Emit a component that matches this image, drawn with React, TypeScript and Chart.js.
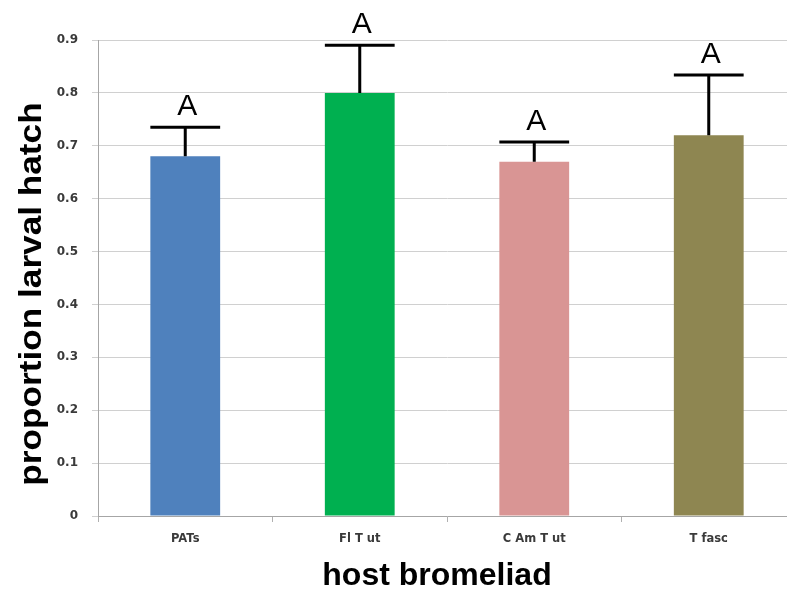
import React, { useEffect, useRef } from "react";
import { Chart, registerables } from "chart.js";

Chart.register(...registerables);

const categories = ["PATs", "Fl T ut", "C Am T ut", "T fasc"];
const means = [0.68, 0.8, 0.67, 0.72];
const errorTops = [0.735, 0.89, 0.707, 0.834];
const groupLetters = ["A", "A", "A", "A"];
const barColors = ["#4F81BD", "#00B050", "#D99594", "#8E8651"];
const yTicks = [0, 0.1, 0.2, 0.3, 0.4, 0.5, 0.6, 0.7, 0.8, 0.9];
const yTitle = "proportion larval hatch";
const xTitle = "host bromeliad";

const FONT = "'Liberation Sans', Arial, sans-serif";
const TICKFONT = "'DejaVu Sans', sans-serif";

const overlayPlugin = {
  id: "overlay",
  afterDatasetsDraw(chart: any) {
    const ctx = chart.ctx;
    const meta = chart.getDatasetMeta(0);
    const y = chart.scales.y;
    ctx.save();
    meta.data.forEach((bar: any, i: number) => {
      const cx = bar.x;
      const half = bar.width / 2;
      const top = y.getPixelForValue(errorTops[i]);
      const base = y.getPixelForValue(means[i]);
      ctx.strokeStyle = "#000";
      ctx.lineWidth = 3;
      ctx.beginPath();
      ctx.moveTo(cx, base);
      ctx.lineTo(cx, top);
      ctx.moveTo(cx - half, top);
      ctx.lineTo(cx + half, top);
      ctx.stroke();
      ctx.fillStyle = "#000";
      ctx.font = `30px ${FONT}`;
      ctx.textAlign = "center";
      ctx.textBaseline = "alphabetic";
      ctx.fillText(groupLetters[i], cx + 2, top - 12);
    });
    // axis titles
    ctx.fillStyle = "#000";
    ctx.font = `bold 32px ${FONT}`;
    ctx.textAlign = "center";
    ctx.textBaseline = "alphabetic";
    ctx.fillText(xTitle, 437, 585);
    ctx.save();
    ctx.translate(41, 294);
    ctx.rotate(-Math.PI / 2);
    ctx.scale(1.1, 1);
    ctx.fillText(yTitle, 0, 0);
    ctx.restore();
    ctx.restore();
  },
};

export default function App() {
  const ref = useRef<HTMLCanvasElement>(null);
  useEffect(() => {
    if (!ref.current) return;
    const chart = new Chart(ref.current, {
      type: "bar",
      data: {
        labels: categories,
        datasets: [
          {
            data: means,
            backgroundColor: barColors,
            borderWidth: 0,
            barPercentage: 0.4,
            categoryPercentage: 1,
          },
        ],
      },
      options: {
        animation: false,
        responsive: false,
        devicePixelRatio: 1,
        layout: { padding: { top: 40, right: 14, left: 0, bottom: 0 } },
        plugins: { legend: { display: false }, tooltip: { enabled: false } },
        scales: {
          x: {
            offset: true,
            grid: {
              display: true,
              drawOnChartArea: false,
              tickLength: 6,
              color: "#b0b0b0",
            },
            border: { display: true, color: "#a6a6a6", width: 1 },
            ticks: {
              padding: 10,
              color: "#3a3a3a",
              font: { family: TICKFONT, size: 11.5, weight: "bold" },
            },
            afterFit(scale: any) {
              scale.height = 74;
            },
          },
          y: {
            min: 0,
            max: 0.9,
            afterBuildTicks(scale: any) {
              scale.ticks = yTicks.map((v) => ({ value: v }));
            },
            grid: { color: "#d0d0d0", tickLength: 6, drawTicks: true },
            border: { display: true, color: "#a6a6a6", width: 1 },
            ticks: {
              padding: 14,
              color: "#3a3a3a",
              font: { family: TICKFONT, size: 12, weight: "bold" },
              callback: (v: any) => (Number(v) === 0 ? "0" : Number(v).toFixed(1)),
            },
            afterFit(scale: any) {
              scale.width = 98;
            },
          },
        },
      },
      plugins: [overlayPlugin],
    });
    return () => chart.destroy();
  }, []);
  return (
    <div
      style={{
        position: "fixed",
        left: 0,
        top: 0,
        width: 787,
        height: 590,
        overflow: "hidden",
        background: "#fff",
      }}
    >
      <canvas ref={ref} width={810} height={590} style={{ display: "block" }} />
    </div>
  );
}
